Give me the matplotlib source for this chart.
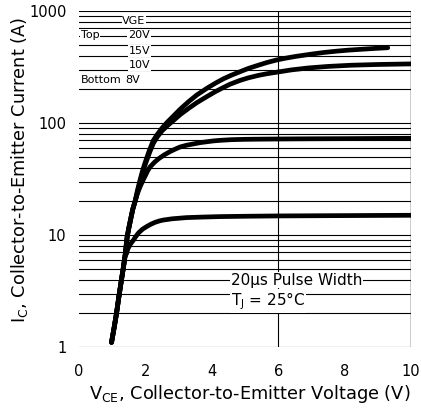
import matplotlib
matplotlib.use("Agg")
import matplotlib.pyplot as plt

plt.rcParams['font.family'] = ['DejaVu Sans']
plt.rcParams['mathtext.default'] = 'regular'

# Shared low-current stem of the curves
stem_x = [0.98, 1.06, 1.13, 1.2, 1.28, 1.34, 1.39]
stem_y = [1.1, 1.5, 2.0, 2.8, 4.0, 5.2, 6.6]

v20_x = [1.45, 1.5, 1.56, 1.62, 1.69, 1.76, 1.84, 1.92, 2.0, 2.12, 2.24, 2.37, 2.5, 2.65, 2.8, 3.05, 3.3, 3.55,
         3.85, 4.1, 4.35, 4.6, 4.85, 5.1, 5.4, 5.65, 5.95, 6.2, 6.5, 6.8, 7.1, 7.4, 7.76, 8.1, 8.5, 8.9, 9.3]
v20_y = [9.6, 11.5, 14, 17, 20, 25, 31, 38, 45, 57, 70, 80, 90, 101, 112, 133, 155, 178,
         204, 226, 248, 268, 287, 307, 328, 346, 365, 378, 392, 404, 416, 427, 438, 447, 455, 463, 470]

v15_x = [1.45, 1.5, 1.56, 1.62, 1.69, 1.76, 1.84, 1.92, 2.0, 2.12, 2.24, 2.37, 2.5, 2.67, 2.84, 3.05, 3.3, 3.55,
         3.85, 4.1, 4.3, 4.55, 4.85, 5.1, 5.4, 5.65, 5.95, 6.4, 6.9, 7.5, 8.2, 9.0, 10.0]
v15_y = [9.6, 11.5, 14, 17, 20, 24, 30, 36, 43, 54, 66, 76, 85, 95, 105, 119, 135, 152,
         172, 190, 204, 222, 240, 253, 266, 275, 284, 298, 310, 320, 328, 333, 337]

v10_x = [1.45, 1.5, 1.56, 1.62, 1.69, 1.76, 1.84, 1.92, 2.0, 2.07, 2.14, 2.27, 2.4, 2.57, 2.74, 2.9, 3.04, 3.24,
         3.44, 3.65, 3.85, 4.05, 4.25, 4.6, 5.0, 5.5, 6.0, 7.0, 8.0, 9.0, 10.0]
v10_y = [9.6, 11.5, 14, 17, 20, 23.5, 27, 30.5, 34, 37.5, 40.5, 44.5, 48, 52, 55.5, 58.5, 61, 63.3,
         65, 66.8, 68, 69.2, 70, 71, 71.5, 71.8, 72, 72.3, 72.5, 72.8, 73]

v8_x = [1.43, 1.47, 1.51, 1.55, 1.6, 1.64, 1.7, 1.8, 1.92, 2.04, 2.17, 2.3, 2.42, 2.54, 2.8, 3.24, 3.7, 4.25, 5.0,
        6.0, 7.0, 8.0, 9.0, 10.0]
v8_y = [6.8, 7.5, 7.9, 8.3, 8.7, 9.0, 9.6, 10.5, 11.3, 11.9, 12.5, 13.0, 13.35, 13.6, 13.95, 14.3, 14.45, 14.6, 14.7,
        14.8, 14.85, 14.9, 14.95, 15.0]

curves = [(v20_x, v20_y), (v15_x, v15_y), (v10_x, v10_y), (v8_x, v8_y)]

x_ticks = [0, 2, 4, 6, 8, 10]
y_ticks = [1, 10, 100, 1000]
y_ticklabels = ['1', '10', '100', '1000']

legend_title = 'VGE'
legend_rows = [('Top', '20V'), ('', '15V'), ('', '10V'), ('Bottom', '8V')]

fig = plt.figure(figsize=(4.21, 4.12), dpi=100)
ax = fig.add_axes([79/421, 1-347/412, 332/421, 336/412])
ax.set_yscale('log')
ax.set_xlim(0, 10)
ax.set_ylim(1, 1000)

# horizontal grid at every log minor step
for dec in [1, 10, 100]:
    for m in range(1, 10):
        ax.axhline(dec*m, color='black', lw=0.8, zorder=1)
ax.axhline(1000, color='black', lw=0.8, zorder=1)
ax.axvline(6, color='black', lw=0.8, zorder=1)
ax.axvline(10, color='black', lw=1.0, zorder=1)

for cx, cy in curves:
    xs = stem_x + cx
    ys = stem_y + cy
    ax.plot(xs, ys, color='black', lw=3.4, solid_capstyle='round',
            solid_joinstyle='round', zorder=3)

for s in ax.spines.values():
    s.set_visible(False)

ax.set_xticks(x_ticks)
ax.set_xticklabels([str(t) for t in x_ticks], fontsize=10.5)
ax.set_yticks(y_ticks)
ax.set_yticklabels(y_ticklabels, fontsize=10.5)
ax.yaxis.set_minor_locator(matplotlib.ticker.NullLocator())
ax.tick_params(axis='both', length=0)
ax.tick_params(axis='x', pad=12)
ax.tick_params(axis='y', pad=9)

fig.text(250/421, 1-394/412, 'V$_{CE}$, Collector-to-Emitter Voltage (V)',
         ha='center', va='center', fontsize=12.8)
fig.text(20/421, 1-170/412, 'I$_C$, Collector-to-Emitter Current (A)',
         ha='center', va='center', rotation=90, fontsize=12.8)

bb = dict(facecolor='white', edgecolor='none', pad=0.6)
def px(x, y):
    return (x/421, 1-y/412)

fig.text(*px(134, 21), legend_title, ha='center', va='center', fontsize=8, bbox=bb, zorder=5)
rows_y = [35, 51, 65, 80]
for (lab, val), yy in zip(legend_rows, rows_y):
    if lab:
        fig.text(*px(81, yy), lab, ha='left', va='center', fontsize=8, bbox=bb, zorder=5)
    if lab == 'Bottom':
        fig.text(*px(125, yy), val, ha='left', va='center', fontsize=8, bbox=bb, zorder=5)
    else:
        fig.text(*px(150, yy), val, ha='right', va='center', fontsize=8, bbox=bb, zorder=5)

fig.text(*px(231, 280), '20µs Pulse Width', ha='left', va='center', fontsize=11, bbox=bb, zorder=5)
fig.text(*px(231, 301), 'T$_J$ = 25°C', ha='left', va='center', fontsize=11, bbox=bb, zorder=5)

fig.savefig('out.png', dpi=100)
